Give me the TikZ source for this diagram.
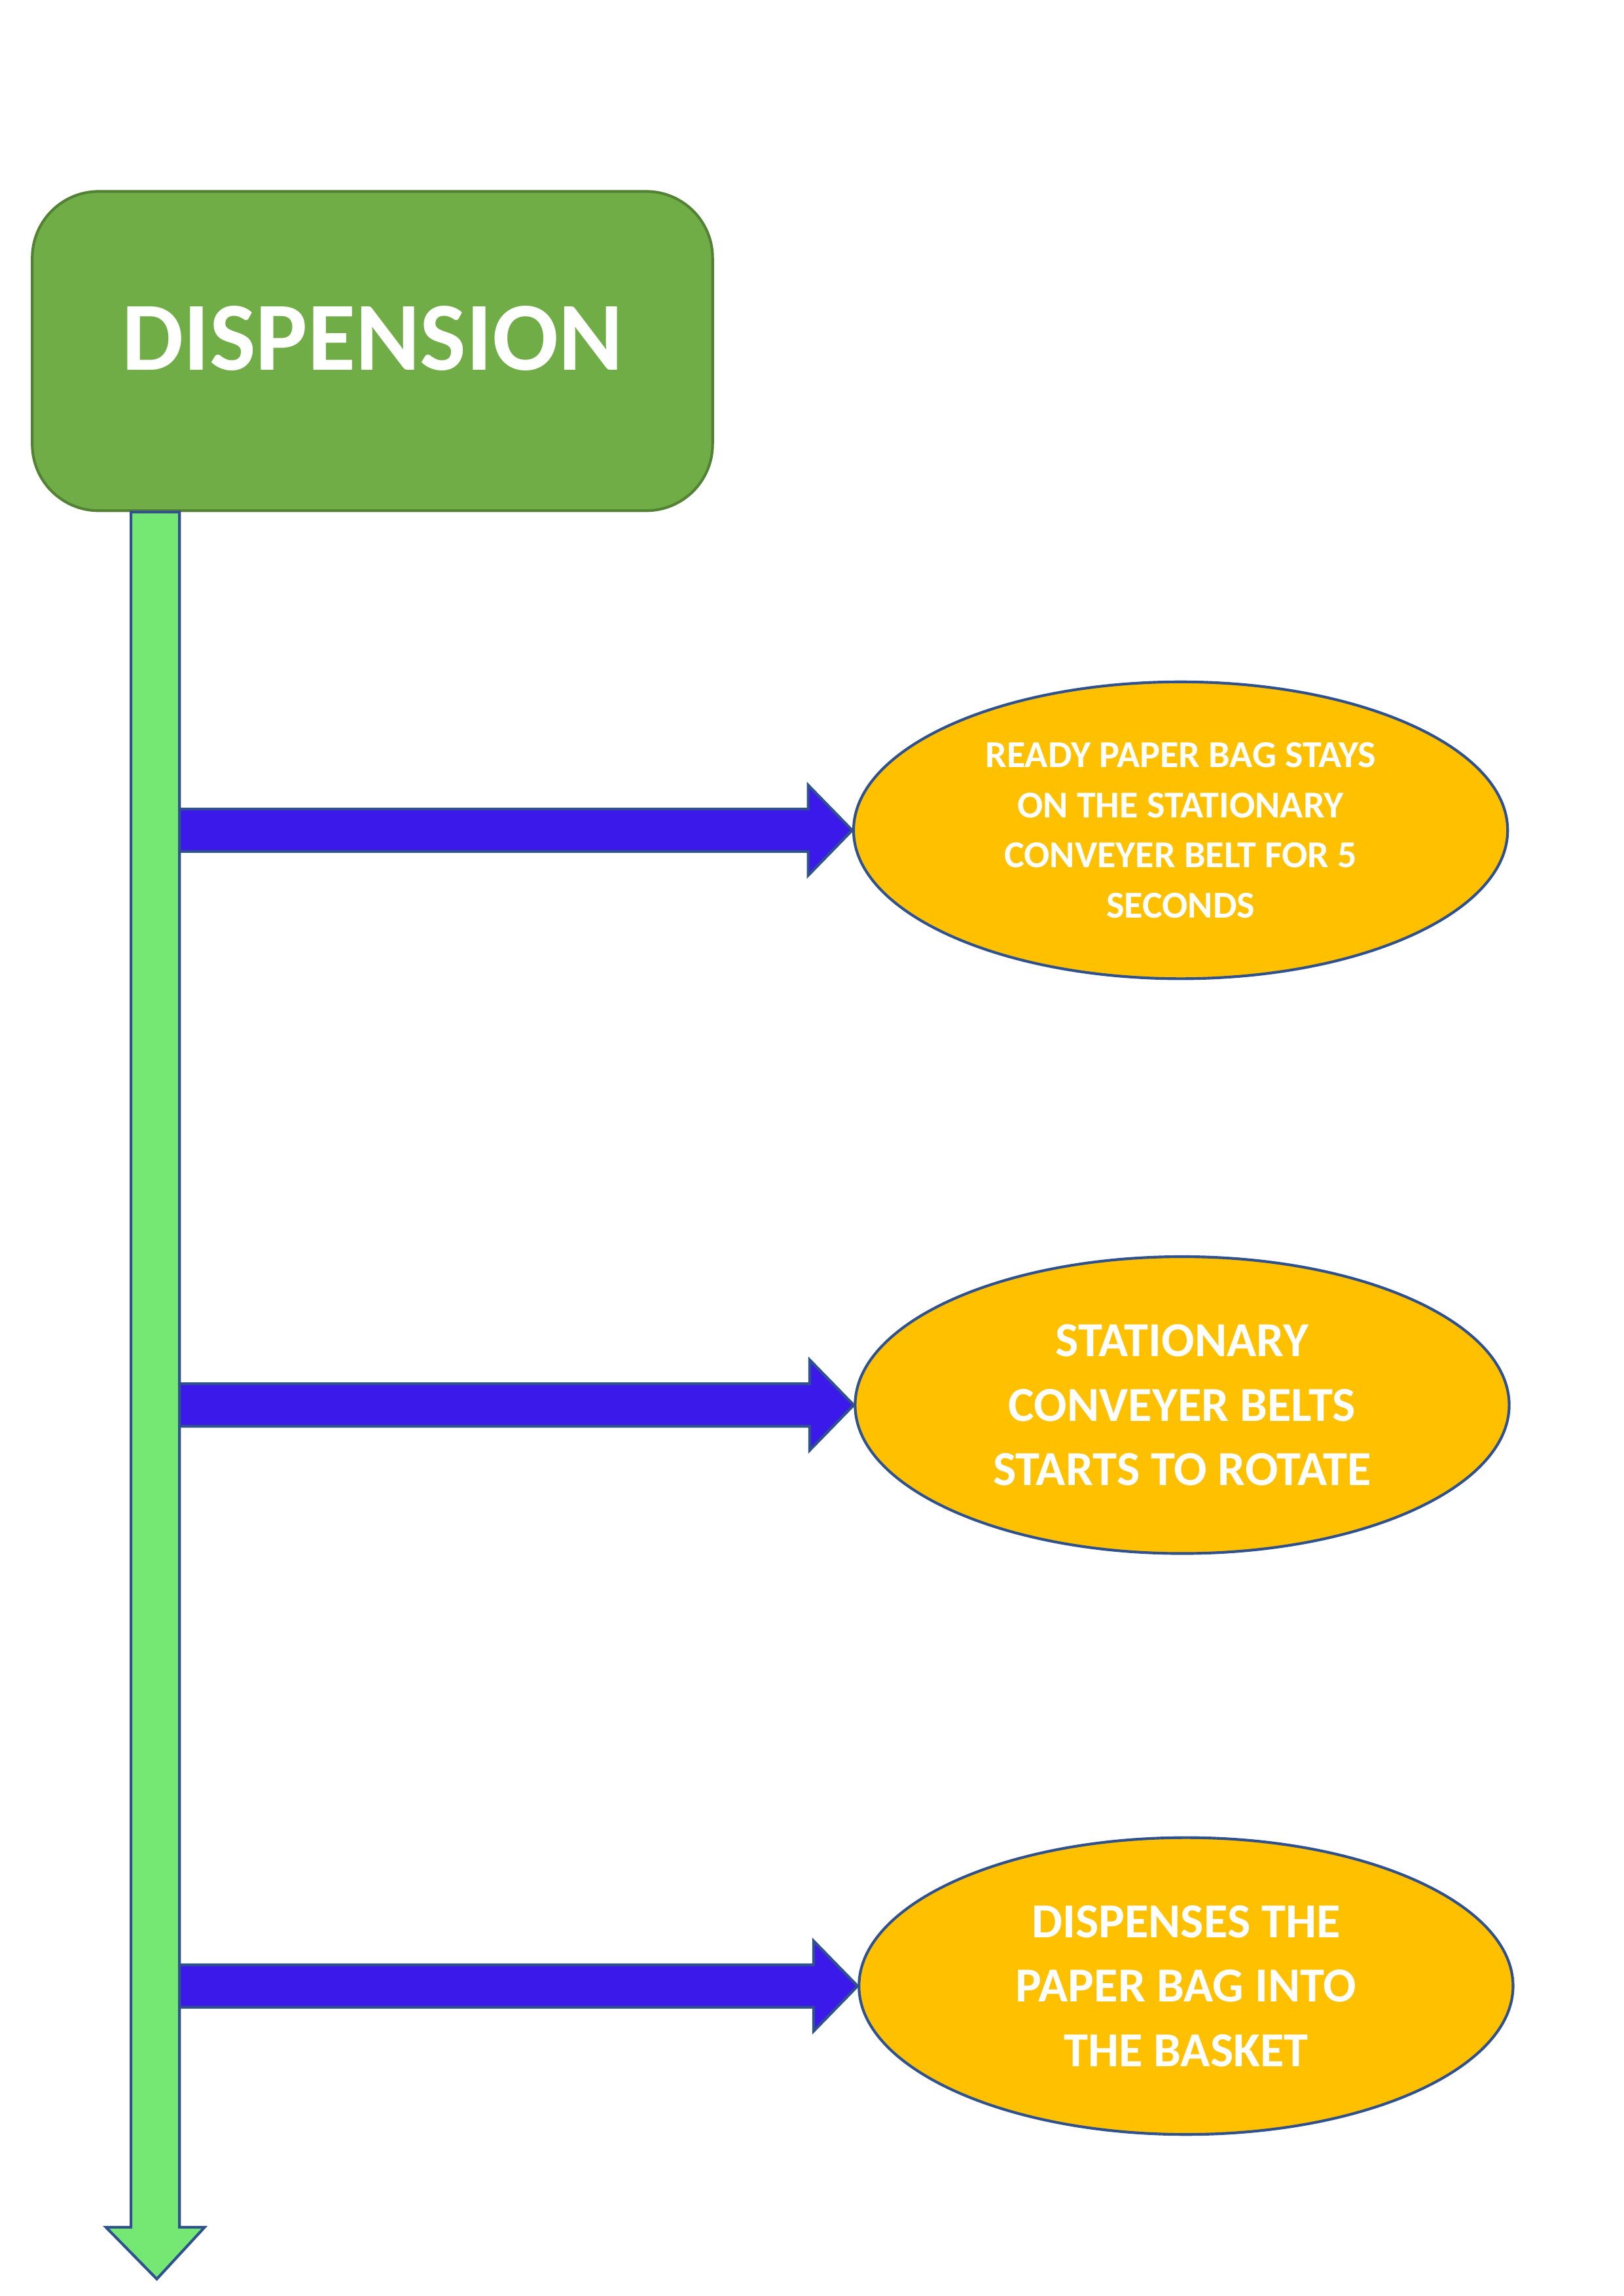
\documentclass[tikz,border=0pt]{standalone}
\usepackage{fontspec}
\setmainfont{Carlito}
\usetikzlibrary{positioning,calc,shapes.geometric}

\definecolor{boxgreen}{HTML}{70AD47}
\definecolor{boxedge}{HTML}{548235}
\definecolor{shaftgreen}{HTML}{75E874}
\definecolor{edgeblue}{HTML}{2F528F}
\definecolor{arrowblue}{HTML}{3C19EB}
\definecolor{stepgold}{HTML}{FFC000}

\tikzset{
  procbox/.style={draw=boxedge, fill=boxgreen, line width=1pt, rounded corners=0.86cm,
    minimum width=8.8cm, minimum height=4.13cm},
  actnode/.style={ellipse, draw=edgeblue, fill=stepgold, line width=1pt, inner sep=0pt,
    minimum width=8.46cm, minimum height=3.84cm, align=center, text=white},
  blockarrow/.style={draw=edgeblue, fill=arrowblue, line width=1pt, line join=miter},
  shaftarrow/.style={draw=edgeblue, fill=shaftgreen, line width=1pt, line join=miter},
}

\begin{document}
\begin{tikzpicture}
        \useasboundingbox (0,0) rectangle (21,-29.7);
        \node[procbox, label={[text=white, font=\bfseries\fontsize{36}{44}\selectfont, yshift=0.16cm]center:DISPENSION}]
            (dispension) at (4.817,-4.541) {};
        \node[actnode, font=\bfseries\fontsize{14}{18.45}\selectfont] (stay) at (15.27,-10.74)
            {READY PAPER BAG STAYS\\ON THE STATIONARY\\CONVEYER BELT FOR 5\\SECONDS};
        \node[actnode, font=\bfseries\fontsize{18}{23.7}\selectfont, below=3.56cm of stay, xshift=0.02cm] (rotate)
            {STATIONARY\\CONVEYER BELTS\\STARTS TO ROTATE};
        \node[actnode, font=\bfseries\fontsize{18}{23.7}\selectfont, below=3.64cm of rotate, xshift=0.05cm] (dispense)
            {DISPENSES THE\\PAPER BAG INTO\\THE BASKET};
        \coordinate (shtop) at ([xshift=1.609cm]dispension.south west);
        \coordinate (shend) at (2.028,-29.48);
        \foreach \act in {stay,rotate,dispense}
            \draw[blockarrow] let \p1=(shtop), \p2=(\act.west) in
                (\x1+0.314cm,\y2+0.275cm) -- (\x2-0.57cm,\y2+0.275cm) -- (\x2-0.57cm,\y2+0.585cm)
                -- (\x2,\y2) -- (\x2-0.57cm,\y2-0.585cm) -- (\x2-0.57cm,\y2-0.275cm)
                -- (\x1+0.314cm,\y2-0.275cm) -- cycle;
        \draw[shaftarrow] let \p1=(shtop), \p2=(shend) in
            (\x1-0.314cm,\y1) -- (\x1+0.314cm,\y1) -- (\x1+0.314cm,\y2+0.67cm)
            -- (\x1+0.638cm,\y2+0.67cm) -- (\x2,\y2) -- (\x1-0.638cm,\y2+0.67cm)
            -- (\x1-0.314cm,\y2+0.67cm) -- cycle;
\end{tikzpicture}
\end{document}
